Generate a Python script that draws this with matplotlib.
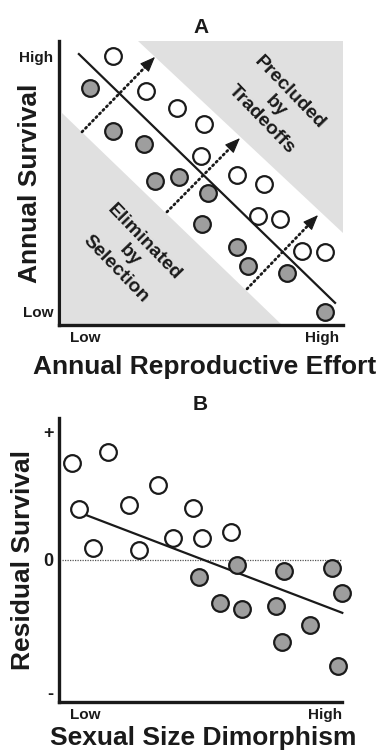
import numpy as np
import matplotlib.pyplot as plt
from matplotlib.patches import Polygon

plt.rcParams['font.family'] = ['Liberation Sans', 'DejaVu Sans']
plt.rcParams['font.weight'] = 'bold'
plt.rcParams['axes.labelweight'] = 'bold'
plt.rcParams['axes.titleweight'] = 'bold'

# Panel A data (relative units 0..1)
a_open_x = [0.190, 0.306, 0.415, 0.511, 0.500, 0.627, 0.722, 0.701, 0.778, 0.856, 0.937]
a_open_y = [0.947, 0.824, 0.764, 0.708, 0.595, 0.528, 0.496, 0.384, 0.373, 0.261, 0.257]
a_fill_x = [0.109, 0.190, 0.299, 0.338, 0.423, 0.525, 0.504, 0.627, 0.665, 0.803, 0.937]
a_fill_y = [0.835, 0.683, 0.637, 0.507, 0.521, 0.465, 0.356, 0.275, 0.208, 0.183, 0.046]
a_line_x = [0.070, 0.972]
a_line_y = [0.954, 0.078]
a_arrows = [((0.081, 0.680), (0.338, 0.944)),
            ((0.380, 0.398), (0.637, 0.658)),
            ((0.662, 0.127), (0.912, 0.387))]
a_upper_zone = [(0.278, 1.0), (1.0, 1.0), (1.0, 0.324)]
a_lower_zone = [(0.01, 0.746), (0.01, 0.0), (0.785, 0.0)]

# Panel B data
b_open_x = [0.045, 0.071, 0.121, 0.172, 0.248, 0.283, 0.349, 0.402, 0.475, 0.505, 0.607]
b_open_y = [0.840, 0.679, 0.543, 0.879, 0.694, 0.535, 0.764, 0.579, 0.682, 0.579, 0.598]
b_fill_x = [0.495, 0.630, 0.569, 0.648, 0.767, 0.795, 0.787, 0.887, 0.966, 0.999, 0.987]
b_fill_y = [0.441, 0.482, 0.348, 0.326, 0.338, 0.462, 0.212, 0.271, 0.471, 0.383, 0.128]
b_line_x = [0.086, 1.001]
b_line_y = [0.662, 0.314]

W, H = 383, 752
fig = plt.figure(figsize=(W / 100, H / 100), dpi=100)

def px_axes(x0, y0, x1, y1):
    return fig.add_axes([x0 / W, 1 - y1 / H, (x1 - x0) / W, (y1 - y0) / H])

edge = '#1a1a1a'
fillc = '#9e9e9e'
ms = 12

def style(ax):
    ax.set_xlim(0, 1)
    ax.set_ylim(0, 1)
    for s in ['top', 'right']:
        ax.spines[s].set_visible(False)
    for s in ['left', 'bottom']:
        ax.spines[s].set_linewidth(2.4)
        ax.spines[s].set_color(edge)
    ax.tick_params(length=0, labelsize=11, pad=4, colors=edge)

# ---- A ----
ax = px_axes(59, 41, 343, 325)
style(ax)
ax.add_patch(Polygon(a_upper_zone, closed=True, facecolor='#e0e0e0', edgecolor='none', zorder=0))
ax.add_patch(Polygon(a_lower_zone, closed=True, facecolor='#e0e0e0', edgecolor='none', zorder=0))
ax.plot(a_line_x, a_line_y, color=edge, lw=1.6, zorder=2)
for (sx, sy), (ex, ey) in a_arrows:
    # dotted shaft, then a solid filled head
    bx0 = sx + (ex - sx) * 0.88
    by0 = sy + (ey - sy) * 0.88
    ax.plot([sx, bx0], [sy, by0], color=edge, lw=2.0, linestyle=(0, (0.5, 1.3)),
            dash_capstyle='round', zorder=2)
    ax.annotate('', xy=(ex, ey), xytext=(bx0, by0),
                arrowprops=dict(arrowstyle='-|>,head_length=0.95,head_width=0.38', color=edge,
                                lw=0.8, shrinkA=0, shrinkB=0), zorder=2)
ax.plot(a_open_x, a_open_y, 'o', ms=ms, mfc='white', mec=edge, mew=1.6, zorder=3, clip_on=False)
ax.plot(a_fill_x, a_fill_y, 'o', ms=ms, mfc=fillc, mec=edge, mew=1.6, zorder=3, clip_on=False)
ax.text(0.764, 0.771, 'Precluded\nby\nTradeoffs', rotation=-46, ha='center', va='center',
        fontsize=14, linespacing=1.2, rotation_mode='anchor', color=edge)
ax.text(0.25, 0.245, 'Eliminated\nby\nSelection', rotation=-46, ha='center', va='center',
        fontsize=14, linespacing=1.2, rotation_mode='anchor', color=edge)
ax.set_xticks([0.092, 0.926])
ax.set_xticklabels(['Low', 'High'])
ax.set_yticks([0.046, 0.947])
ax.set_yticklabels(['Low', 'High'])
ax.set_xlabel('Annual Reproductive Effort', fontsize=19, color=edge, va='center')
ax.set_ylabel('Annual Survival', fontsize=19, color=edge, va='center')
ax.xaxis.set_label_coords(0.514, -0.148)
ax.yaxis.set_label_coords(-0.102, 0.5)
ax.set_title('A', fontsize=15, pad=6, color=edge)

# ---- B ----
bx = px_axes(59, 418, 342, 702)
style(bx)
bx.plot([0.01, 0.995], [0.5, 0.5], color='#555555', lw=0.9, linestyle=(0, (1, 1)), zorder=1)
bx.plot(b_line_x, b_line_y, color=edge, lw=1.6, zorder=2, clip_on=False)
bx.plot(b_open_x, b_open_y, 'o', ms=ms, mfc='white', mec=edge, mew=1.6, zorder=3, clip_on=False)
bx.plot(b_fill_x, b_fill_y, 'o', ms=ms, mfc=fillc, mec=edge, mew=1.6, zorder=3, clip_on=False)
bx.set_xticks([0.092, 0.94])
bx.set_xticklabels(['Low', 'High'])
bx.set_yticks([0.035, 0.5, 0.951])
bx.set_yticklabels(['-', '0', '+'], fontsize=13)
bx.set_xlabel('Sexual Size Dimorphism', fontsize=19, color=edge, va='center')
bx.set_ylabel('Residual Survival', fontsize=19, color=edge, va='center')
bx.xaxis.set_label_coords(0.509, -0.127)
bx.yaxis.set_label_coords(-0.127, 0.5)
bx.set_title('B', fontsize=15, pad=6, color=edge)

fig.savefig('out.png', dpi=100)
